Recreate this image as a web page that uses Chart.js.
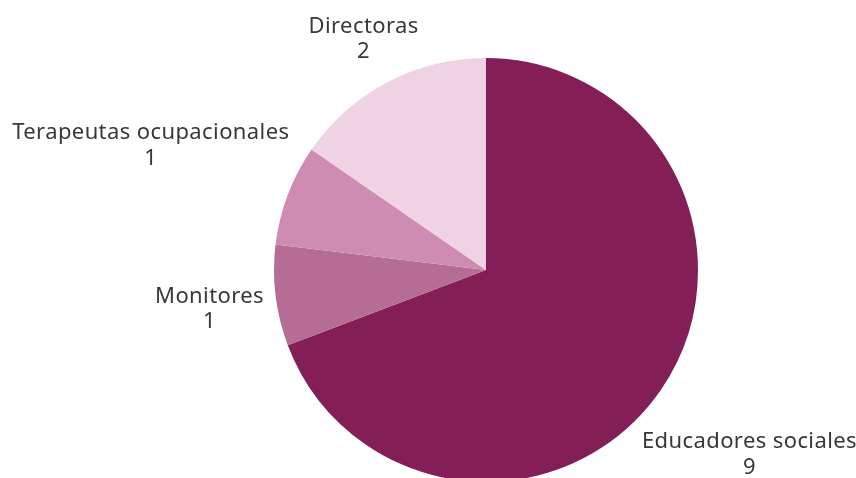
<!DOCTYPE html>
<html>
<head>
<meta charset="utf-8">
<script src="https://cdn.jsdelivr.net/npm/chart.js@4/dist/chart.umd.min.js"></script>
<style>
html,body{margin:0;padding:0;background:#fff;}
#wrap{width:856px;height:478px;position:relative;}
</style>
</head>
<body>
<div id="wrap"><canvas id="c" width="856" height="478"></canvas></div>
<script>
const categories = ['Educadores sociales', 'Monitores', 'Terapeutas ocupacionales', 'Directoras'];
const values = [9, 1, 1, 2];
const colors = ['#831F56', '#B56C95', '#CF8CB3', '#EFD3E2'];

const outsideLabels = {
  id: 'outsideLabels',
  afterDatasetsDraw(chart, args, opts) {
    const ctx = chart.ctx;
    const meta = chart.getDatasetMeta(0);
    ctx.save();
    ctx.font = '22px "Noto Sans", sans-serif';
    if ('letterSpacing' in ctx) ctx.letterSpacing = '0.4px';
    ctx.fillStyle = '#383838';
    ctx.textAlign = 'center';
    ctx.textBaseline = 'middle';
    const lh = 25.5;
    meta.data.forEach((arc, i) => {
      const p = arc.getProps(['x','y','startAngle','endAngle','outerRadius'], true);
      const mid = (p.startAngle + p.endAngle) / 2;
      const ux = Math.cos(mid), uy = Math.sin(mid);
      const r = p.outerRadius + opts.gaps[i];
      const ax = p.x + ux * r, ay = p.y + uy * r;
      const l1 = categories[i], l2 = String(values[i]);
      const w = Math.max(ctx.measureText(l1).width, ctx.measureText(l2).width);
      const hw = w / 2, hh = lh;
      const cx = ax + hw * ux + opts.nudges[i][0];
      const cy = ay + hh * uy + opts.nudges[i][1];
      ctx.fillText(l1, cx, cy - lh / 2);
      ctx.fillText(l2, cx, cy + lh / 2);
    });
    ctx.restore();
  }
};

new Chart(document.getElementById('c'), {
  type: 'pie',
  data: {
    labels: categories,
    datasets: [{
      data: values,
      backgroundColor: colors,
      borderWidth: 0
    }]
  },
  options: {
    responsive: false,
    animation: false,
    radius: 212,
    layout: { padding: { left: 116, right: 0, top: 62, bottom: 0 } },
    plugins: {
      legend: { display: false },
      tooltip: { enabled: false },
      outsideLabels: {
        gaps: [31, 12, 25, 20],
        nudges: [[-25, 32], [0, 9], [16, -31], [11, -3]]
      }
    }
  },
  plugins: [outsideLabels]
});
</script>
</body>
</html>
